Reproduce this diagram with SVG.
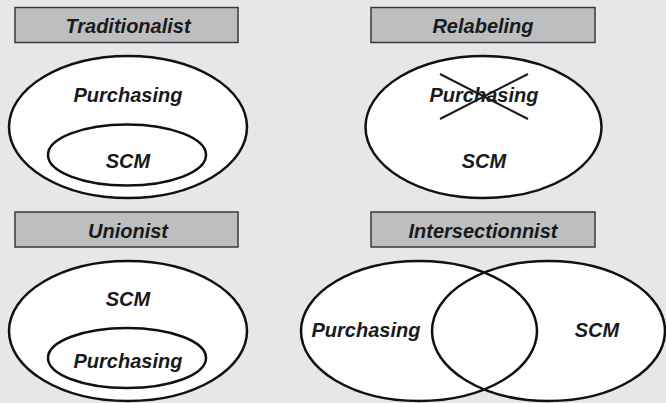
<svg xmlns="http://www.w3.org/2000/svg" width="666" height="403" viewBox="0 0 666 403">
<style>
.bg{fill:#e6e7e8}
.box{fill:#bcbec0;stroke:#3a3a3a;stroke-width:1.5}
.ell{fill:#ffffff;stroke:#111111;stroke-width:2.5}
.outline{fill:none;stroke:#111111;stroke-width:2.5}
.t{font-family:"Liberation Sans",Arial,sans-serif;font-weight:bold;font-style:italic;font-size:20px;fill:#1a1a1a;text-anchor:middle}
.x{stroke:#1a1a1a;stroke-width:2}
</style>
<rect class="bg" x="0" y="0" width="666" height="403"/>
<g id="traditionalist">
<rect class="box" x="15" y="7.5" width="223" height="35"/>
<text class="t" x="128" y="33">Traditionalist</text>
<ellipse class="ell" cx="128" cy="127" rx="119" ry="71"/>
<ellipse class="ell" cx="127" cy="155" rx="79" ry="30.5"/>
<text class="t" x="128" y="102">Purchasing</text>
<text class="t" x="128" y="168">SCM</text>
</g>
<g id="relabeling">
<rect class="box" x="371" y="7.5" width="224" height="35"/>
<text class="t" x="483" y="33">Relabeling</text>
<ellipse class="ell" cx="483.5" cy="127" rx="118" ry="71"/>
<text class="t" x="484" y="102">Purchasing</text>
<line class="x" x1="440" y1="74" x2="528" y2="119"/>
<line class="x" x1="440" y1="119" x2="528" y2="74"/>
<text class="t" x="484" y="168">SCM</text>
</g>
<g id="unionist">
<rect class="box" x="15" y="212" width="223" height="35"/>
<text class="t" x="128" y="238">Unionist</text>
<ellipse class="ell" cx="128" cy="331" rx="119" ry="70"/>
<ellipse class="ell" cx="127" cy="358" rx="79" ry="30"/>
<text class="t" x="128" y="306">SCM</text>
<text class="t" x="128" y="368">Purchasing</text>
</g>
<g id="intersectionnist">
<rect class="box" x="371" y="212" width="224" height="35"/>
<text class="t" x="483" y="238">Intersectionnist</text>
<ellipse cx="419" cy="331" rx="118" ry="70" fill="#ffffff"/>
<ellipse cx="548.5" cy="331" rx="116.5" ry="70" fill="#ffffff"/>
<ellipse class="outline" cx="419" cy="331" rx="118" ry="70"/>
<ellipse class="outline" cx="548.5" cy="331" rx="116.5" ry="70"/>
<text class="t" x="366" y="337">Purchasing</text>
<text class="t" x="597" y="337">SCM</text>
</g>
</svg>
